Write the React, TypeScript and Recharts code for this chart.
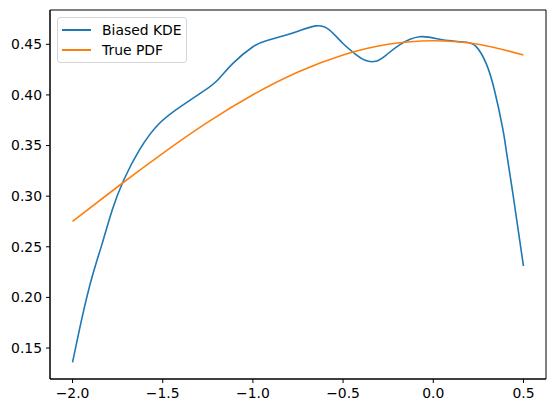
import React from "react"
import { LineChart, Line, XAxis, YAxis, Legend, ReferenceArea } from "recharts"

// values
const kdeX = [
  -2.0, -1.946, -1.891, -1.835, -1.78, -1.716, -1.629, -1.518, -1.389, -1.278,
  -1.195, -1.111, -1.0, -0.926, -0.815, -0.742, -0.65, -0.575, -0.502, -0.437,
  -0.381, -0.32, -0.261, -0.187, -0.076, 0.035, 0.108, 0.182, 0.238, 0.293,
  0.339, 0.385, 0.404, 0.441, 0.5,
]
const kdeY = [
  0.1358, 0.181, 0.2206, 0.2536, 0.2864, 0.316, 0.3457, 0.372, 0.39, 0.4032,
  0.4148, 0.4312, 0.4476, 0.4536, 0.4592, 0.4634, 0.4682, 0.4641, 0.451, 0.4411,
  0.4345, 0.4332, 0.4394, 0.4495, 0.4575, 0.455, 0.4533, 0.452, 0.4477, 0.4312,
  0.4049, 0.367, 0.3457, 0.303, 0.231,
]

const pdfX = [-2.0, -1.75, -1.5, -1.25, -1.0, -0.75, -0.5, -0.25, 0.0, 0.25, 0.5]
const pdfY = [0.275, 0.3093, 0.3423, 0.3731, 0.4002, 0.4227, 0.4395, 0.45, 0.4535, 0.45, 0.4395]

const xTicks = [-2.0, -1.5, -1.0, -0.5, 0.0, 0.5]
const yTicks = [0.15, 0.2, 0.25, 0.3, 0.35, 0.4, 0.45]

const seriesNames = ["Biased KDE", "True PDF"]
const colors = ["#1f77b4", "#ff7f0e"]

const kdeData = kdeX.map((x, i) => ({ x, y: kdeY[i] }))
const pdfData = pdfX.map((x, i) => ({ x, y: pdfY[i] }))

const xDomain = [-2.125, 0.625]
const yDomain = [0.1194, 0.4839]

const fmt = (v: number, d: number) => v.toFixed(d).replace("-", "\u2212")

const font = "DejaVu Sans, sans-serif"
const tickStyle = { fill: "#000", fontSize: 13.9, fontFamily: font }

function LegendBox() {
  return (
    <div
      style={{
        position: "absolute",
        left: 57,
        top: 17,
        width: 128,
        height: 44,
        border: "1px solid #d5d5d5",
        borderRadius: 3,
        background: "#fff",
        fontFamily: font,
        fontSize: 13.9,
        color: "#000",
      }}
    >
      {seriesNames.map((name, i) => (
        <div key={name} style={{ position: "absolute", left: 4, top: 3 + i * 20, height: 18, display: "flex", alignItems: "center" }}>
          <div style={{ width: 29, height: 2, background: colors[i] }} />
          <span style={{ marginLeft: 11, whiteSpace: "nowrap" }}>{name}</span>
        </div>
      ))}
    </div>
  )
}

export default function App() {
  return (
    <div style={{ position: "absolute", left: 0, top: 0, width: 556, height: 413, background: "#fff" }}>
      <LineChart width={556} height={413} margin={{ top: 10, right: 10, left: 0, bottom: 0 }}>
        <XAxis
          dataKey="x"
          type="number"
          domain={xDomain}
          allowDataOverflow
          ticks={xTicks}
          tickFormatter={(v: number) => fmt(v, 1)}
          tick={tickStyle}
          stroke="#000"
          tickSize={4}
          tickMargin={5}
          height={34}
          interval={0}
        />
        <YAxis
          type="number"
          domain={yDomain}
          allowDataOverflow
          ticks={yTicks}
          tickFormatter={(v: number) => fmt(v, 2)}
          tick={tickStyle}
          stroke="#000"
          tickSize={4}
          tickMargin={4}
          width={50}
          interval={0}
        />
        {/* full axes frame like matplotlib */}
        <ReferenceArea x1={xDomain[0]} x2={xDomain[1]} y1={yDomain[0]} y2={yDomain[1]} fill="none" stroke="#000" strokeWidth={1} ifOverflow="visible" />
        <Line data={kdeData} dataKey="y" name={seriesNames[0]} type="natural" stroke={colors[0]} strokeWidth={1.6} dot={false} isAnimationActive={false} />
        <Line data={pdfData} dataKey="y" name={seriesNames[1]} type="natural" stroke={colors[1]} strokeWidth={1.6} dot={false} isAnimationActive={false} />
        <Legend content={() => <LegendBox />} wrapperStyle={{ left: 0, top: 0, width: 0, height: 0 }} />
      </LineChart>
    </div>
  )
}
